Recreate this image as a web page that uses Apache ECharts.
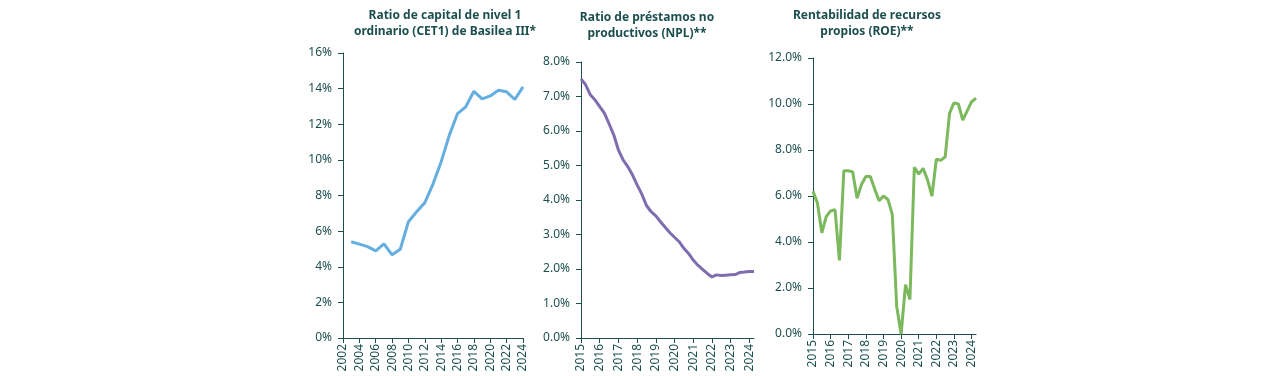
<!DOCTYPE html>
<html>
<head>
<meta charset="utf-8">
<script src="https://cdn.jsdelivr.net/npm/echarts@6/dist/echarts.min.js"></script>
<style>
  html, body { margin: 0; padding: 0; background: #fff; }
  #chart { width: 1280px; height: 376px; }
</style>
</head>
<body>
<div id="chart"></div>
<script>
// CET1 ratio, annual
const cet1Years = [2003, 2004, 2005, 2006, 2007, 2008, 2009, 2010, 2011, 2012, 2013,
  2014, 2015, 2016, 2017, 2018, 2019, 2020, 2021, 2022, 2023, 2024];
const cet1 = [5.40, 5.27, 5.13, 4.89, 5.28, 4.67, 4.98, 6.53, 7.09, 7.60, 8.64,
  9.90, 11.39, 12.60, 12.98, 13.85, 13.42, 13.59, 13.91, 13.82, 13.39, 14.10];

// quarterly series 2015T1 - 2024T2
const years = [2015, 2016, 2017, 2018, 2019, 2020, 2021, 2022, 2023, 2024];
const quarters = [];
years.forEach(function (y) {
  for (let q = 1; q <= 4; q++) {
    if (y === 2024 && q > 2) break;
    quarters.push(y + 'T' + q);
  }
});
const npl = [7.51, 7.34, 7.05, 6.90, 6.71, 6.52, 6.21, 5.89, 5.45, 5.16,
  4.97, 4.73, 4.44, 4.17, 3.84, 3.66, 3.54, 3.37, 3.21, 3.05,
  2.92, 2.79, 2.60, 2.45, 2.26, 2.11, 1.99, 1.87, 1.77, 1.83,
  1.81, 1.82, 1.83, 1.84, 1.90, 1.91, 1.93, 1.93];
const roe = [6.20, 5.70, 4.40, 5.10, 5.35, 5.40, 3.20, 7.10, 7.10, 7.05,
  5.90, 6.50, 6.85, 6.85, 6.30, 5.80, 6.00, 5.85, 5.20, 1.20,
  0.00, 2.15, 1.50, 7.25, 6.95, 7.20, 6.70, 6.00, 7.60, 7.55,
  7.70, 9.60, 10.05, 10.00, 9.30, 9.70, 10.10, 10.25];

const txt = "#1d4f4f";
const font = "Noto Sans";
const colors = ["#64aee0", "#7f6db0", "#7cb85c"];

const axisLine = { show: true, lineStyle: { color: txt, width: 1 } };
const axisTick = { show: true, inside: false, length: 5, lineStyle: { color: txt } };

function yAxis(idx, max, interval, digits) {
  return {
    type: "value", gridIndex: idx, min: 0, max: max, interval: interval,
    splitLine: { show: false },
    axisLine: axisLine, axisTick: axisTick,
    axisLabel: {
      color: txt, fontFamily: font, fontSize: 12, margin: 11,
      formatter: function (v) { return v.toFixed(digits) + "%"; }
    }
  };
}

function quarterAxis(idx) {
  const every4 = function (i) { return i % 4 === 0; };
  return {
    type: "category", gridIndex: idx, data: quarters, boundaryGap: false,
    axisLine: axisLine,
    axisTick: Object.assign({}, axisTick, { interval: every4 }),
    axisLabel: {
      color: txt, fontFamily: font, fontSize: 12, rotate: 90, margin: 6,
      interval: every4,
      formatter: function (v) { return v.slice(0, 4); }
    }
  };
}

const titleStyle = { color: txt, fontFamily: font, fontSize: 12, fontWeight: "bold", lineHeight: 16, align: "center" };

const option = {
  animation: false,
  title: [
    { text: "Ratio de capital de nivel 1\nordinario (CET1) de Basilea III*", left: 440, top: 3, textAlign: "center", textStyle: titleStyle },
    { text: "Ratio de préstamos no\nproductivos (NPL)**", left: 642, top: 5, textAlign: "center", textStyle: titleStyle },
    { text: "Rentabilidad de recursos\npropios (ROE)**", left: 862, top: 3, textAlign: "center", textStyle: titleStyle }
  ],
  grid: [
    { left: 343, top: 53, width: 180, height: 285 },
    { left: 581, top: 62, width: 173, height: 276 },
    { left: 813, top: 58, width: 163, height: 276 }
  ],
  xAxis: [
    {
      type: "value", gridIndex: 0, min: 2002, max: 2024, interval: 2,
      splitLine: { show: false },
      axisLine: axisLine, axisTick: axisTick,
      axisLabel: { color: txt, fontFamily: font, fontSize: 12, rotate: 90, margin: 6, formatter: function (v) { return String(v); } }
    },
    quarterAxis(1),
    quarterAxis(2)
  ],
  yAxis: [
    yAxis(0, 16, 2, 0),
    yAxis(1, 8, 1, 1),
    yAxis(2, 12, 2, 1)
  ],
  series: [
    {
      type: "line", xAxisIndex: 0, yAxisIndex: 0, showSymbol: false,
      data: cet1Years.map(function (y, i) { return [y, cet1[i]]; }),
      lineStyle: { color: colors[0], width: 3 }
    },
    {
      type: "line", xAxisIndex: 1, yAxisIndex: 1, showSymbol: false,
      data: npl, lineStyle: { color: colors[1], width: 3 }
    },
    {
      type: "line", xAxisIndex: 2, yAxisIndex: 2, showSymbol: false,
      data: roe, lineStyle: { color: colors[2], width: 3 }
    }
  ]
};

const myChart = echarts.init(document.getElementById("chart"));
myChart.setOption(option);
</script>
</body>
</html>
